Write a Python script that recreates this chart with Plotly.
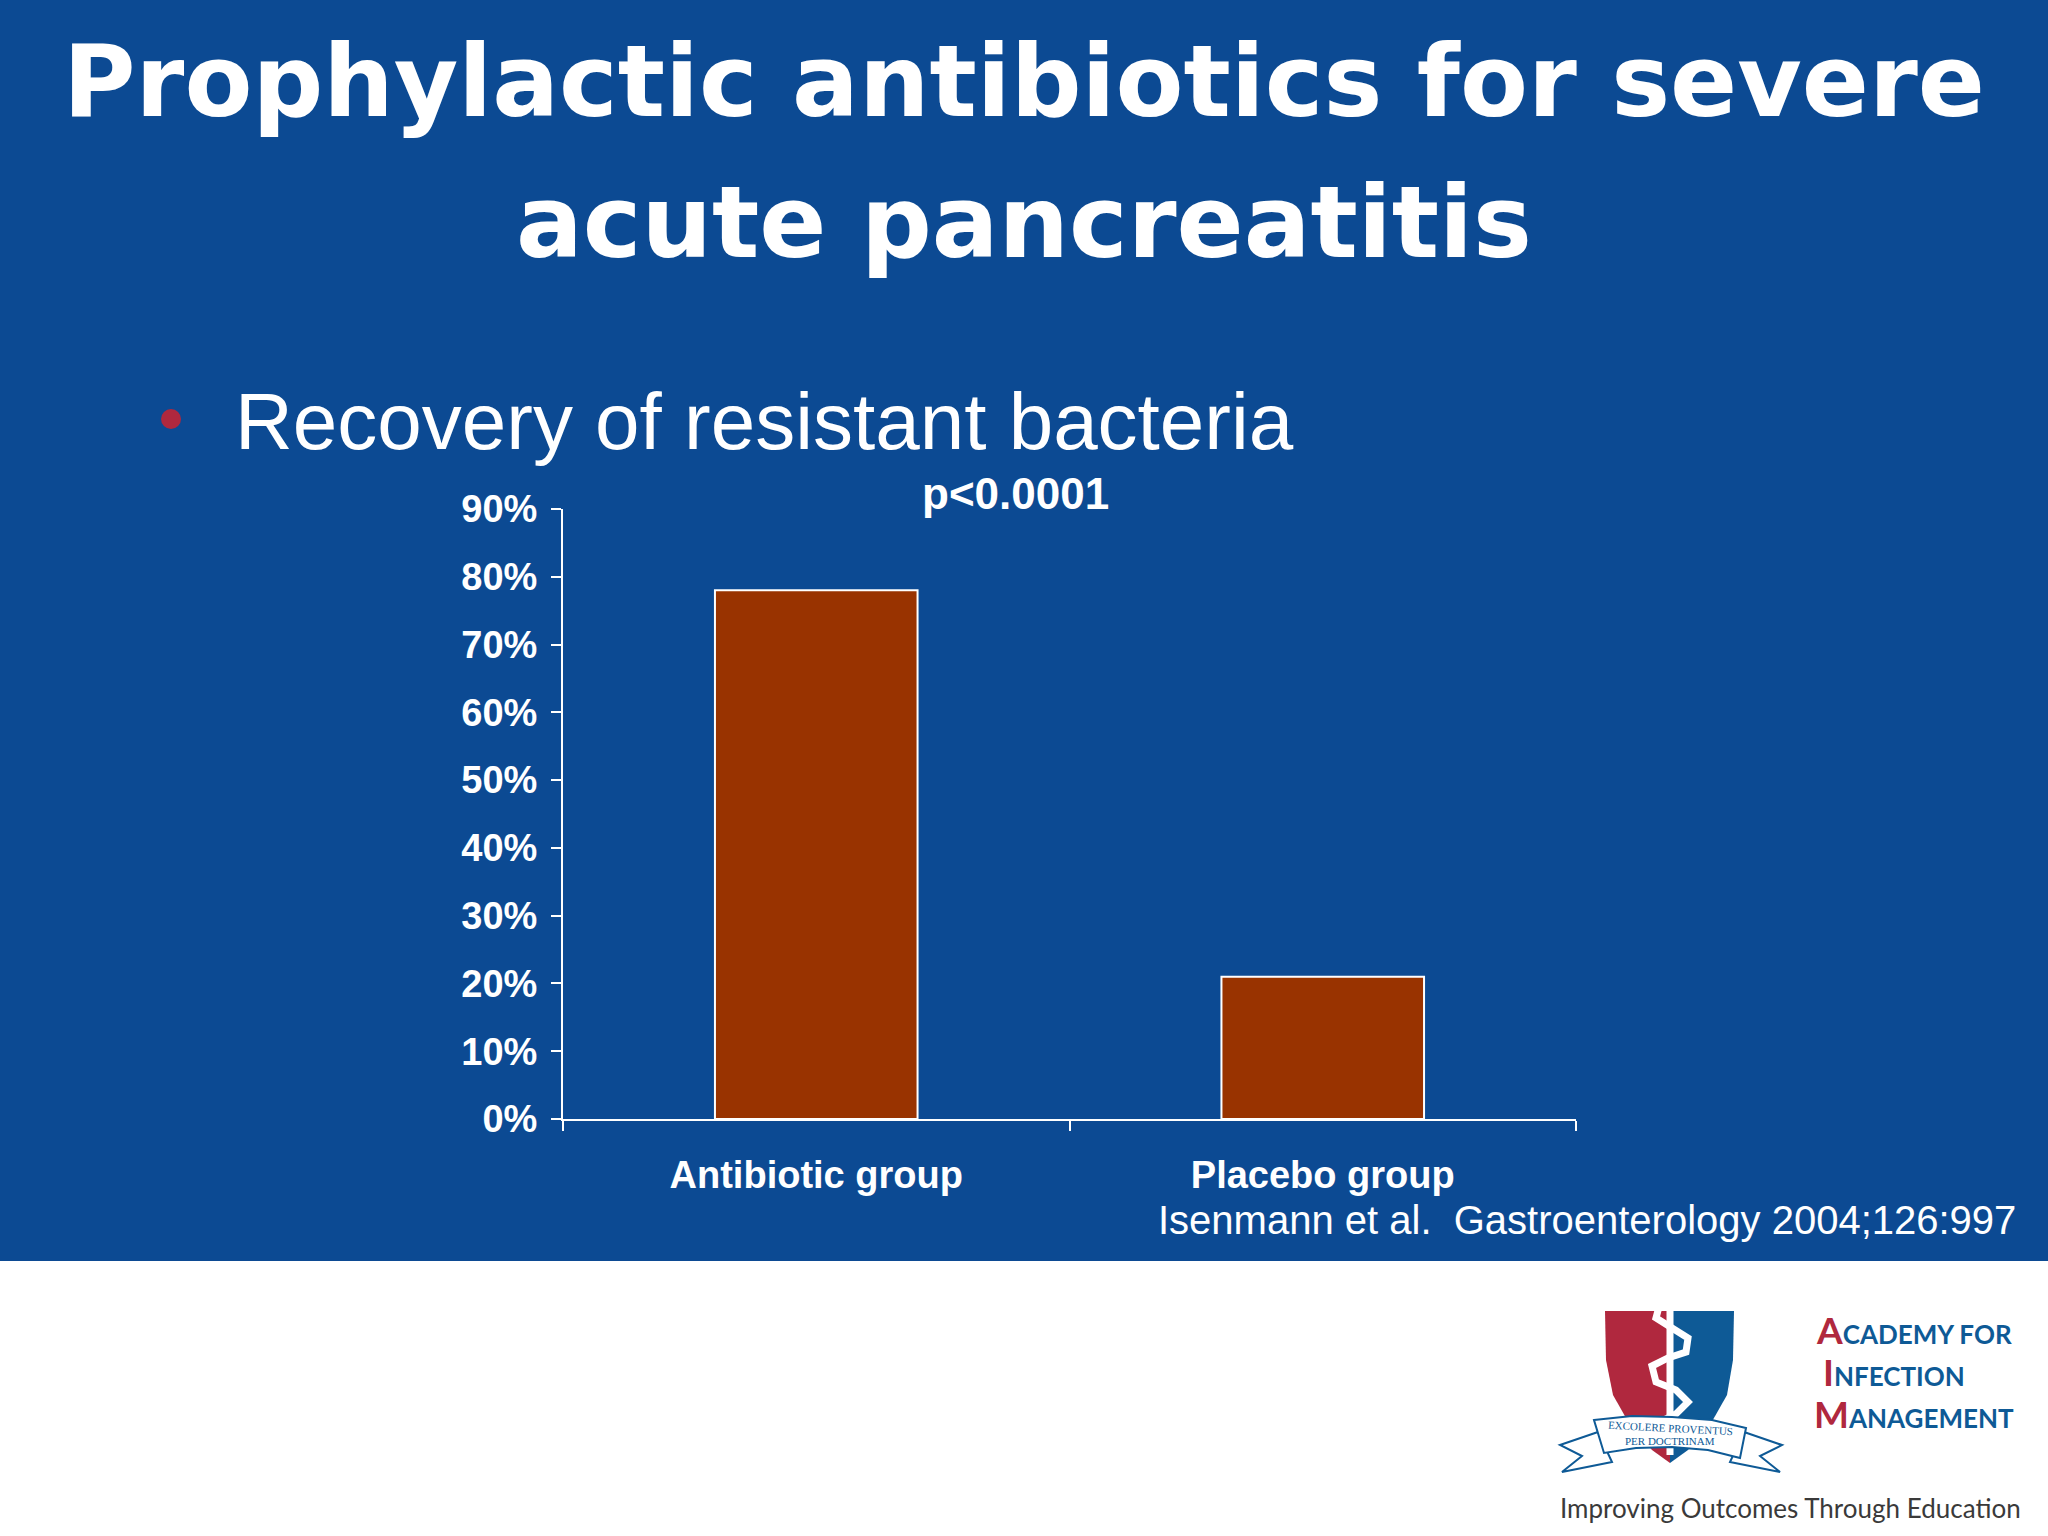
import plotly.graph_objects as go

# ---- data ----
categories = ["Antibiotic group", "Placebo group"]
values = [78, 21]
y_tick_vals = [0, 10, 20, 30, 40, 50, 60, 70, 80, 90]
y_tick_text = ["0%", "10%", "20%", "30%", "40%", "50%", "60%", "70%", "80%", "90%"]
title_line1 = "Prophylactic antibiotics for severe"
title_line2 = "acute pancreatitis"
subtitle = "Recovery of resistant bacteria"
p_value = "p<0.0001"
citation = "Isenmann et al.&nbsp; Gastroenterology 2004;126:997"

W, H = 2048, 1536
BLUE = "#0C4A93"
BAR = "#993300"
RED = "#B0283E"
LOGO_BLUE = "#0E5A96"


def px(x):
    return x / W


def py(y):
    return 1 - y / H


def path(points, close=True):
    s = "M " + " L ".join(f"{px(x):.5f},{py(y):.5f}" for x, y in points)
    return s + (" Z" if close else "")


fig = go.Figure(
    go.Bar(
        x=categories,
        y=values,
        width=0.4,
        marker=dict(color=BAR, line=dict(color="white", width=2)),
    )
)

shapes = []
# blue slide background
shapes.append(dict(type="rect", xref="paper", yref="paper", x0=0, x1=1, y0=py(1261), y1=1,
                   fillcolor=BLUE, line=dict(width=0), layer="below"))
# bullet
shapes.append(dict(type="circle", xref="paper", yref="paper",
                   x0=px(161), x1=px(181), y0=py(429), y1=py(409),
                   fillcolor=RED, line=dict(width=0)))

# ---- logo (decorative) ----
cx = 1670
shapes.append(dict(type="path", xref="paper", yref="paper",
                   path=path([(1605, 1311), (cx, 1311), (cx, 1463), (1652, 1450), (1630, 1425),
                              (1613, 1395), (1606, 1360)]),
                   fillcolor=RED, line=dict(width=0)))
shapes.append(dict(type="path", xref="paper", yref="paper",
                   path=path([(cx, 1311), (1734, 1311), (1733, 1360), (1727, 1395), (1710, 1425),
                              (1688, 1450), (cx, 1463)]),
                   fillcolor=LOGO_BLUE, line=dict(width=0)))
shapes.append(dict(type="line", xref="paper", yref="paper",
                   x0=px(cx), x1=px(cx), y0=py(1300), y1=py(1455),
                   line=dict(color="white", width=7)))
shapes.append(dict(type="path", xref="paper", yref="paper",
                   path=path([(1690, 1300), (1678, 1296), (1660, 1303), (1656, 1318), (1672, 1328),
                              (1688, 1338), (1686, 1352), (1668, 1358), (1652, 1366), (1656, 1382),
                              (1676, 1390), (1688, 1402), (1676, 1414), (1664, 1420)], close=False),
                   line=dict(color="white", width=7)))
shapes.append(dict(type="path", xref="paper", yref="paper",
                   path=path([(1598, 1432), (1560, 1445), (1582, 1456), (1562, 1472), (1612, 1462)]),
                   fillcolor="white", line=dict(color=LOGO_BLUE, width=2)))
shapes.append(dict(type="path", xref="paper", yref="paper",
                   path=path([(1744, 1432), (1782, 1445), (1760, 1456), (1780, 1472), (1730, 1462)]),
                   fillcolor="white", line=dict(color=LOGO_BLUE, width=2)))
shapes.append(dict(type="path", xref="paper", yref="paper",
                   path=path([(1594, 1420), (1632, 1416), (1672, 1417), (1712, 1420), (1746, 1428),
                              (1740, 1458), (1708, 1450), (1672, 1447), (1636, 1448), (1604, 1453)]),
                   fillcolor="white", line=dict(color=LOGO_BLUE, width=2)))

annotations = [
    dict(text=title_line1, x=px(1024), y=py(81), xref="paper", yref="paper",
         xanchor="center", yanchor="middle", showarrow=False,
         font=dict(family="DejaVu Sans", size=99, color="white", weight="bold")),
    dict(text=title_line2, x=px(1024), y=py(222), xref="paper", yref="paper",
         xanchor="center", yanchor="middle", showarrow=False,
         font=dict(family="DejaVu Sans", size=99, color="white", weight="bold")),
    dict(text=subtitle, x=px(233), y=py(421), xref="paper", yref="paper",
         xanchor="left", yanchor="middle", showarrow=False,
         font=dict(family="Liberation Sans", size=80, color="white")),
    dict(text=p_value, x=px(1015), y=py(493), xref="paper", yref="paper",
         xanchor="center", yanchor="middle", showarrow=False,
         font=dict(family="Liberation Sans", size=44, color="white", weight="bold")),
    dict(text=citation, x=px(2018), y=py(1220), xref="paper", yref="paper",
         xanchor="right", yanchor="middle", showarrow=False,
         font=dict(family="Liberation Sans", size=40, color="white")),
    dict(text="EXCOLERE PROVENTUS", x=px(1670), y=py(1428), xref="paper", yref="paper",
         xanchor="center", yanchor="middle", showarrow=False, textangle=3,
         font=dict(family="Liberation Serif", size=11, color=LOGO_BLUE)),
    dict(text="PER DOCTRINAM", x=px(1670), y=py(1441), xref="paper", yref="paper",
         xanchor="center", yanchor="middle", showarrow=False,
         font=dict(family="Liberation Serif", size=11, color=LOGO_BLUE)),
    dict(text=f"<span style='color:{RED};font-size:37px'>A</span>CADEMY FOR",
         x=px(1814), y=py(1329), xref="paper", yref="paper",
         xanchor="left", yanchor="middle", showarrow=False,
         font=dict(family="Lato", size=26, color=LOGO_BLUE, weight="bold")),
    dict(text=f"<span style='color:{RED};font-size:37px'>I</span>NFECTION",
         x=px(1821), y=py(1371), xref="paper", yref="paper",
         xanchor="left", yanchor="middle", showarrow=False,
         font=dict(family="Lato", size=26, color=LOGO_BLUE, weight="bold")),
    dict(text=f"<span style='color:{RED};font-size:37px'>M</span>ANAGEMENT",
         x=px(1812), y=py(1413), xref="paper", yref="paper",
         xanchor="left", yanchor="middle", showarrow=False,
         font=dict(family="Lato", size=26, color=LOGO_BLUE, weight="bold")),
    dict(text="Improving Outcomes Through Education", x=px(1558), y=py(1508),
         xref="paper", yref="paper", xanchor="left", yanchor="middle", showarrow=False,
         font=dict(family="Lato", size=26, color="#3a3a3a")),
]

fig.update_layout(
    template="none",
    width=W,
    height=H,
    margin=dict(l=0, r=0, t=0, b=0, pad=0, autoexpand=False),
    paper_bgcolor="white",
    plot_bgcolor="rgba(0,0,0,0)",
    showlegend=False,
    shapes=shapes,
    annotations=annotations,
    xaxis=dict(
        domain=[px(563), px(1576)],
        automargin=False,
        showline=True, linecolor="white", linewidth=2,
        ticks="outside", tickson="boundaries", ticklen=10, tickwidth=2, tickcolor="white",
        tickfont=dict(family="Liberation Sans", size=38, color="white", weight="bold"),
        ticklabelstandoff=21,
        showgrid=False, zeroline=False,
    ),
    yaxis=dict(
        domain=[py(1119), py(509)],
        automargin=False,
        range=[0, 90],
        tickmode="array", tickvals=y_tick_vals, ticktext=y_tick_text,
        showline=True, linecolor="white", linewidth=2,
        ticks="outside", ticklen=10, tickwidth=2, tickcolor="white",
        tickfont=dict(family="Liberation Sans", size=38, color="white", weight="bold"),
        ticklabelstandoff=6,
        showgrid=False, zeroline=False,
    ),
)

fig.write_html(
    "out.html",
    config={"displayModeBar": False},
    post_script="document.body.style.margin='0';document.body.style.overflow='hidden';",
)
